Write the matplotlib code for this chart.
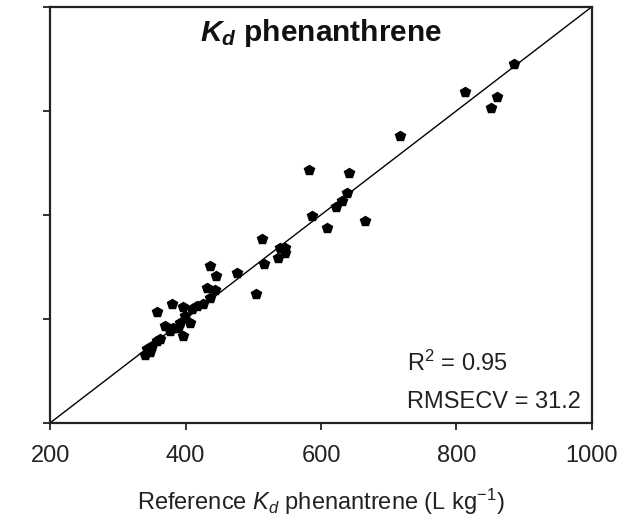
"""Kd phenanthrene: predicted vs reference scatter with the 1:1 line."""

import matplotlib

matplotlib.use("Agg")
import matplotlib.pyplot as plt  # noqa: E402

plt.rcParams["font.family"] = "Liberation Sans"
plt.rcParams["mathtext.fontset"] = "custom"
plt.rcParams["mathtext.rm"] = "Liberation Sans"
plt.rcParams["mathtext.it"] = "Liberation Sans:italic"
plt.rcParams["mathtext.bf"] = "Liberation Sans:bold"
plt.rcParams["mathtext.bfit"] = "Liberation Sans:italic:bold"

# Reference vs predicted Kd (L kg-1).
reference = [885, 812, 860, 851, 717, 582, 641, 638, 631, 622, 587, 665, 609,
             513, 539, 547, 537, 547, 516, 476, 504, 436, 445, 432, 444, 436,
             426, 417, 410, 396, 380, 358, 399, 392, 382, 377, 389, 396, 358,
             351, 343, 340, 370, 407, 362, 348]
predicted = [890, 836, 826, 805, 751, 687, 681, 641, 627, 615, 598, 588, 575,
             554, 536, 536, 517, 527, 505, 488, 447, 501, 482, 459, 455, 440,
             428, 424, 418, 422, 428, 414, 405, 391, 382, 376, 382, 366, 357,
             347, 341, 331, 386, 391, 362, 337]

ticks = [200, 400, 600, 800, 1000]
r2 = 0.95
rmsecv = 31.2

fig = plt.figure(figsize=(6.44, 5.22), dpi=100)
ax = fig.add_axes([0.078, 0.19, 0.841, 0.797])

ax.plot([ticks[0], ticks[-1]], [ticks[0], ticks[-1]], color="black", lw=1.0)
ax.plot(reference, predicted, linestyle="none", marker="p", ms=7,
        color="black", zorder=3)

ax.set_xlim(ticks[0], ticks[-1])
ax.set_ylim(ticks[0], ticks[-1])
ax.set_xticks(ticks)
ax.set_yticks(ticks)
ax.set_yticklabels([])
ax.tick_params(direction="out", length=5, width=1.3, labelsize=17, pad=11,
               colors="#222222")
for spine in ax.spines.values():
    spine.set_linewidth(1.6)
    spine.set_color("#222222")

ax.set_xlabel(r"Reference $K_d$ phenantrene (L kg$^{-1}$)", fontsize=17,
              labelpad=14, color="#222222")
ax.text(0.5, 0.975, r"$\mathbfit{K_d}$ phenanthrene", transform=ax.transAxes,
        ha="center", va="top", fontsize=21.5, fontweight="bold",
        color="#111111")
ax.text(0.659, 0.124, f"R$^2$ = {r2:.2f}", transform=ax.transAxes,
        ha="left", va="baseline", fontsize=17, color="#222222")
ax.text(0.659, 0.035, f"RMSECV = {rmsecv}", transform=ax.transAxes,
        ha="left", va="baseline", fontsize=17, color="#222222")

fig.savefig("out.png", dpi=100)
